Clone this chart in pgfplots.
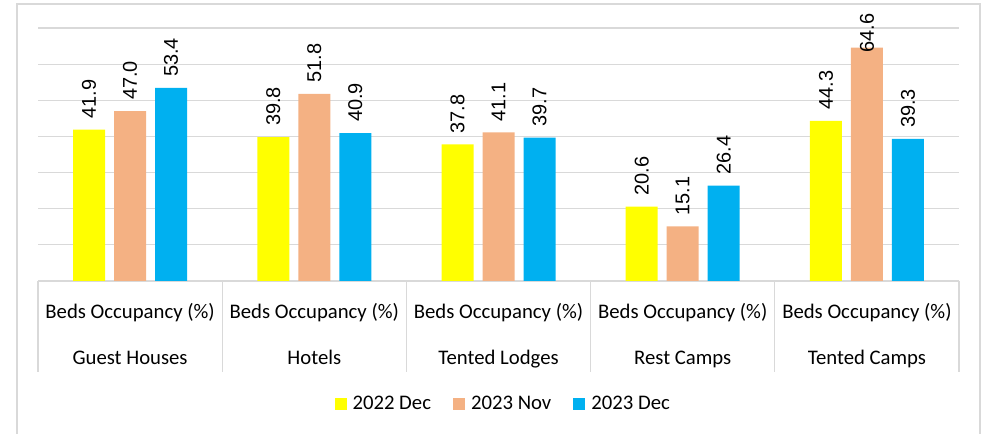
\documentclass[border=0pt]{standalone}
\usepackage{fontspec}
\setmainfont{Carlito}
\newfontfamily\labfont{Liberation Sans}
\usepackage{pgfplots}
\usepackage{pgfplotstable}
\pgfplotsset{compat=1.18}
\definecolor{cyel}{HTML}{FFFF00}
\definecolor{corg}{HTML}{F4B183}
\definecolor{cblu}{HTML}{00B0F0}
\definecolor{cgrid}{HTML}{D9D9D9}
\newcommand{\catfont}{\fontsize{20.8}{24}\selectfont}
\pgfplotstableread{
x y g
0 41.9 11
1 39.8 11
2 37.8 11
3 20.6 11
4 44.3 11
}\yeltab
\pgfplotstableread{
x y g
0 47.0 11
1 51.8 11
2 41.1 11
3 15.1 11
4 64.6 -5
}\orgtab
\pgfplotstableread{
x y g
0 53.4 11
1 40.9 11
2 39.7 11
3 26.4 11
4 39.3 11
}\blutab
\begin{document}
\begin{tikzpicture}[x=1bp,y=1bp]
\path[use as bounding box] (0,0) rectangle (986,434);
\draw[cgrid, line width=1.2bp] (17,-10) -- (17,430) -- (980,430) -- (980,-10);
\begin{axis}[
  at={(38bp,153bp)}, anchor=south west, scale only axis,
  width=921bp, height=253bp,
  xmin=-0.5, xmax=4.5, ymin=0, ymax=70,
  ytick={0,10,...,70}, yticklabels={}, xtick=\empty,
  ymajorgrids, grid style={cgrid, line width=1.2bp},
  axis line style={draw=none}, tick style={draw=none},
  ybar=9bp, bar width=32bp,
  clip=false,
  /pgf/number format/assume math mode=true,
  visualization depends on={\thisrow{g} \as \lgap},
  nodes near coords={\pgfmathprintnumber[fixed,fixed zerofill,precision=1]{\pgfplotspointmeta}},
  nodes near coords style={font=\fontsize{20}{24}\selectfont\labfont, rotate=90, anchor=west, inner xsep=\lgap bp, inner ysep=0pt, text=black},
  legend style={at={(rel axis cs:0.504,-0.486)}, anchor=center, draw=none, fill=none,
    font=\catfont, legend columns=3, nodes={inner sep=0pt},
    /tikz/every odd column/.append style={column sep=6bp},
    /tikz/every even column/.append style={column sep=22bp}},
  legend image code/.code={\fill[#1] (0bp,-6bp) rectangle (12bp,6bp);},
]
\addplot[fill=cyel, draw=none] table[x=x, y=y] {\yeltab};
\addplot[fill=corg, draw=none] table[x=x, y=y] {\orgtab};
\addplot[fill=cblu, draw=none] table[x=x, y=y] {\blutab};
\legend{2022 Dec, 2023 Nov, 2023 Dec}
\draw[cgrid, line width=1.2bp] (axis cs:-0.5,0) -- ++(0bp,-91bp);
\draw[cgrid, line width=1.2bp] (axis cs:0.5,0) -- ++(0bp,-91bp);
\draw[cgrid, line width=1.2bp] (axis cs:1.5,0) -- ++(0bp,-91bp);
\draw[cgrid, line width=1.2bp] (axis cs:2.5,0) -- ++(0bp,-91bp);
\draw[cgrid, line width=1.2bp] (axis cs:3.5,0) -- ++(0bp,-91bp);
\draw[cgrid, line width=1.2bp] (axis cs:4.5,0) -- ++(0bp,-91bp);
\node[anchor=base, font=\catfont, yshift=-38bp] at (axis cs:0,0) {Beds Occupancy (\%)};
\node[anchor=base, font=\catfont, yshift=-38bp] at (axis cs:1,0) {Beds Occupancy (\%)};
\node[anchor=base, font=\catfont, yshift=-38bp] at (axis cs:2,0) {Beds Occupancy (\%)};
\node[anchor=base, font=\catfont, yshift=-38bp] at (axis cs:3,0) {Beds Occupancy (\%)};
\node[anchor=base, font=\catfont, yshift=-38bp] at (axis cs:4,0) {Beds Occupancy (\%)};
\node[anchor=base, font=\catfont, yshift=-84bp] at (axis cs:0,0) {Guest Houses};
\node[anchor=base, font=\catfont, yshift=-84bp] at (axis cs:1,0) {Hotels};
\node[anchor=base, font=\catfont, yshift=-84bp] at (axis cs:2,0) {Tented Lodges};
\node[anchor=base, font=\catfont, yshift=-84bp] at (axis cs:3,0) {Rest Camps};
\node[anchor=base, font=\catfont, yshift=-84bp] at (axis cs:4,0) {Tented Camps};
\end{axis}
\end{tikzpicture}
\end{document}
